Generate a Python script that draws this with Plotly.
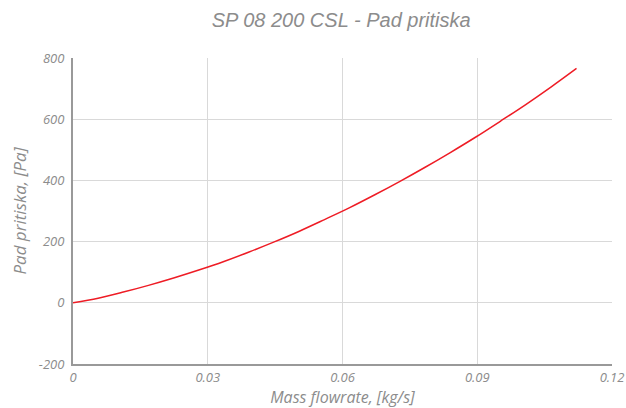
import plotly.graph_objects as go

# Pressure drop vs. mass flow rate
mass_flow = [0.0, 0.0056, 0.0112, 0.0168, 0.0224, 0.028, 0.0336, 0.0392, 0.0448, 0.0504, 0.056,
             0.0616, 0.0672, 0.0728, 0.0784, 0.084, 0.0896, 0.0952, 0.1008, 0.1064, 0.1121]
pressure_drop = [0, 15, 35, 57, 81, 107, 135, 166, 199, 234, 272,
                 311, 353, 397, 443, 491, 541, 594, 648, 705, 766]

x_ticks = [0, 0.03, 0.06, 0.09, 0.12]
y_ticks = [-200, 0, 200, 400, 600, 800]

gray = "#8c8c8c"
title_font = "Liberation Sans, Arial, sans-serif"
axis_font = "Open Sans, sans-serif"

fig = go.Figure()
fig.add_trace(go.Scatter(
    x=mass_flow, y=pressure_drop, mode="lines", line_shape="spline",
    line=dict(color="#ee1c25", width=1.5),
    showlegend=False, hoverinfo="x+y",
))

fig.update_layout(
    width=626, height=408,
    margin=dict(l=73, r=14, t=58, b=44, autoexpand=False),
    paper_bgcolor="white", plot_bgcolor="white",
    font=dict(family=axis_font, color=gray),
    title=dict(
        text="<i>SP 08 200 CSL - Pad pritiska</i>",
        x=0.545, xanchor="center", y=0.95, yanchor="middle",
        font=dict(size=20, color=gray, family=title_font),
    ),
    xaxis=dict(
        range=[0, 0.12], tickvals=x_ticks, ticktext=[f"<i>{v:g}</i>" for v in x_ticks],
        showgrid=True, gridcolor="#d9d9d9", gridwidth=1, automargin=False,
        showline=True, linecolor="#999999", linewidth=2,
        zeroline=False, ticks="", tickfont=dict(size=13, color=gray, family=axis_font),
        title=dict(text="<i>Mass flowrate, [kg/s]</i>", font=dict(size=16, color=gray, family=axis_font), standoff=3),
    ),
    yaxis=dict(
        range=[-200, 800], tickvals=y_ticks, ticktext=[f"<i>{v}</i>" for v in y_ticks],
        showgrid=True, gridcolor="#d9d9d9", gridwidth=1, automargin=False,
        showline=True, linecolor="#999999", linewidth=2,
        zeroline=False, ticks="", tickfont=dict(size=13, color=gray, family=axis_font),
        ticklabelstandoff=4,
        title=dict(text="<i>Pad pritiska, [Pa]</i>", font=dict(size=17, color=gray, family=axis_font), standoff=8),
    ),
)

fig.write_html("out.html")
